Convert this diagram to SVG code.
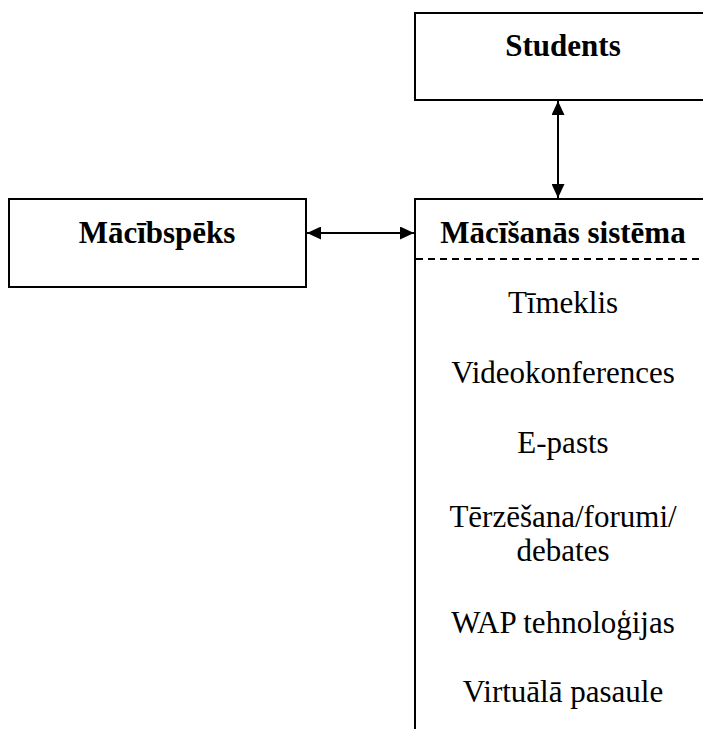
<svg xmlns="http://www.w3.org/2000/svg" width="703" height="729" viewBox="0 0 703 729">
  <style>
    .box { fill: #fff; stroke: #000; stroke-width: 2; }
    .edge { stroke: #000; stroke-width: 2; fill: none; }
    .head { font-family: "Liberation Serif", "Times New Roman", serif; font-size: 31px; font-weight: bold; text-anchor: middle; fill: #000; }
    .item { font-family: "Liberation Serif", "Times New Roman", serif; font-size: 31px; text-anchor: middle; fill: #000; }
  </style>
  <defs>
    <marker id="arrow" viewBox="0 0 14 13" refX="14" refY="6.5" markerWidth="14" markerHeight="13" markerUnits="userSpaceOnUse" orient="auto-start-reverse">
      <path d="M0,0 L14,6.5 L0,13 z" fill="#000"/>
    </marker>
  </defs>
  <rect width="703" height="729" fill="#fff"/>

  <g id="students">
    <rect class="box" x="415" y="13" width="300" height="87"/>
    <text class="head" x="563" y="56">Students</text>
  </g>

  <g id="macibspeks">
    <rect class="box" x="9" y="199" width="297" height="88"/>
    <text class="head" x="157" y="243">Mācībspēks</text>
  </g>

  <g id="macisanas-sistema">
    <path class="edge" d="M415,729 V199 H710"/>
    <line class="edge" x1="416" y1="259" x2="703" y2="259" stroke-dasharray="7,5"/>
    <text class="head" x="563" y="243">Mācīšanās sistēma</text>
    <text class="item" x="563" y="313">Tīmeklis</text>
    <text class="item" x="563" y="383">Videokonferences</text>
    <text class="item" x="563" y="453">E-pasts</text>
    <text class="item" x="563" y="527">Tērzēšana/forumi/</text>
    <text class="item" x="563" y="561">debates</text>
    <text class="item" x="563" y="633">WAP tehnoloģijas</text>
    <text class="item" x="563" y="702">Virtuālā pasaule</text>
  </g>

  <g id="connectors">
    <line class="edge" x1="558" y1="101" x2="558" y2="198" marker-start="url(#arrow)" marker-end="url(#arrow)"/>
    <line class="edge" x1="307" y1="233" x2="414" y2="233" marker-start="url(#arrow)" marker-end="url(#arrow)"/>
  </g>
</svg>
